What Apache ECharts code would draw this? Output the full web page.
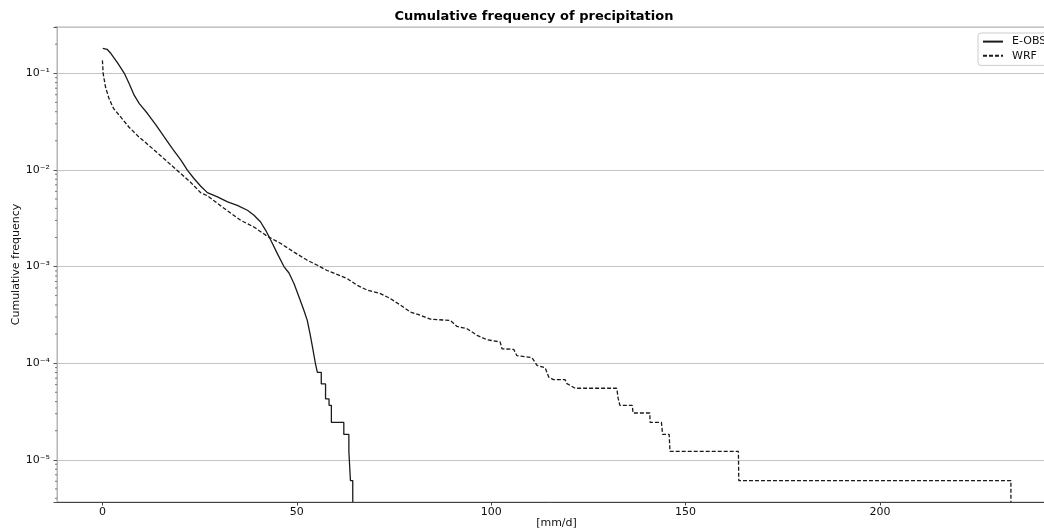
<!DOCTYPE html>
<html>
<head>
<meta charset="utf-8">
<title>Cumulative frequency of precipitation</title>
<script src="https://cdn.jsdelivr.net/npm/echarts@6/dist/echarts.min.js"></script>
<style>
  html, body { margin: 0; padding: 0; background: #fff; }
  #chart { width: 1044px; height: 531px; }
</style>
</head>
<body>
<div id="chart"></div>
<script>
// Exceedance frequency per daily precipitation amount [mm/d]
const eobsX = [0.1, 1.2, 2.2, 3.9, 5.6, 6.9, 8.2, 9.5, 11.6, 13.8, 15.9, 18.0, 20.2, 21.9, 23.6, 25.3, 27.0,
  29.6, 32.2, 34.7, 37.3, 39.0, 40.7, 42.0, 42.9, 43.7, 45.0, 46.7, 48.0, 49.3, 50.6, 51.8, 52.7, 53.4,
  54.0, 54.8, 55.3, 56.3, 56.3, 57.4, 57.4, 58.3, 58.3, 58.9, 58.9, 62.1, 62.1, 63.4, 63.4, 63.8, 63.8,
  64.4, 64.4];
const eobsY = [0.181, 0.177, 0.160, 0.128, 0.1005, 0.078, 0.059, 0.0485, 0.0383, 0.029, 0.0219, 0.0166,
  0.0126, 0.0099, 0.0081, 0.00677, 0.00582, 0.00525, 0.00466, 0.0043, 0.00382, 0.00339, 0.00289,
  0.00237, 0.00202, 0.00174, 0.00136, 0.00100, 0.000857, 0.000665, 0.00048, 0.000355, 0.000277,
  0.000202, 0.000150, 0.000099, 0.0000805, 0.0000805, 0.0000610, 0.0000610, 0.0000427, 0.0000427,
  0.0000366, 0.0000366, 0.0000244, 0.0000244, 0.0000183, 0.0000183, 0.0000122, 0.0000122, 0.0000061,
  0.0000061, 0];

const wrfX = [0.0, 0.2, 0.8, 1.7, 2.9, 4.7, 6.8, 9.4, 12.4, 15.8, 19.2, 22.6, 25.3, 27.0, 31.3, 35.6,
  39.0, 42.4, 45.9, 49.3, 52.7, 55.3, 57.8, 63.0, 65.5, 68.1, 71.5, 74.1, 76.7, 79.2, 81.8, 84.4, 89.5,
  91.2, 93.8, 96.4, 98.9, 102.3, 102.8, 105.8, 106.6, 110.5, 111.8, 113.9, 114.8, 116.0, 119.0, 119.5,
  121.6, 132.3, 132.7, 133.1, 136.3, 136.5, 140.8, 140.9, 143.8, 144.1, 145.8, 146.0, 163.6, 163.7,
  233.7, 233.7];
const wrfY = [0.136, 0.099, 0.072, 0.0547, 0.043, 0.0353, 0.0278, 0.0219, 0.0173, 0.0131, 0.0099, 0.0075,
  0.0058, 0.0054, 0.0040, 0.0030, 0.00256, 0.00206, 0.00173, 0.00141, 0.00116, 0.00103, 0.00091,
  0.00075, 0.00064, 0.00057, 0.000525, 0.000466, 0.000398, 0.000339, 0.000313, 0.000285, 0.000277,
  0.00024, 0.000227, 0.000194, 0.000175, 0.000166, 0.000141, 0.000139, 0.000120, 0.000114, 0.000095,
  0.0000897, 0.0000718, 0.0000676, 0.0000676, 0.0000614, 0.0000550, 0.0000550, 0.0000427, 0.0000366,
  0.0000366, 0.0000305, 0.0000305, 0.0000244, 0.0000244, 0.0000183, 0.0000183, 0.0000122, 0.0000122,
  0.0000061, 0.0000061, 0];

const xTicks = [0, 50, 100, 150, 200];
const X_MIN = -11.68, X_MAX = 245.3;
const Y_MIN = 3.66e-6, Y_MAX = 0.301;

// log-axis minor ticks: 2..9 x 10^n inside the visible range
const minorTicks = [];
for (let e = -6; e <= 0; e++) {
  for (let k = 2; k <= 9; k++) {
    const v = k * Math.pow(10, e);
    if (v >= Y_MIN && v <= Y_MAX) minorTicks.push(v);
  }
}

// a zero frequency has no place on a log axis: pin it to the axis floor
function toPairs(xs, ys) {
  return xs.map((x, i) => [x, ys[i] > 0 ? ys[i] : Y_MIN]);
}

const SUP = { '-': '\u207B', '0': '\u2070', '1': '\u00B9', '2': '\u00B2', '3': '\u00B3',
  '4': '\u2074', '5': '\u2075', '6': '\u2076', '7': '\u2077', '8': '\u2078', '9': '\u2079' };
function powLabel(v) {
  const l = Math.log10(v);
  const e = Math.round(l);
  if (Math.abs(l - e) > 1e-6) return '';
  return '10' + String(e).split('').map(c => SUP[c]).join('');
}

const FONT = 'DejaVu Sans';
const chart = echarts.init(document.getElementById('chart'), null, { renderer: 'canvas' });

chart.setOption({
  animation: false,
  backgroundColor: '#ffffff',
  textStyle: { fontFamily: FONT },
  title: {
    text: 'Cumulative frequency of precipitation',
    left: 529,
    textAlign: 'center',
    top: 5,
    textStyle: { fontFamily: FONT, fontSize: 13, fontWeight: 'bold', color: '#000' }
  },
  legend: {
    orient: 'vertical',
    left: 978,
    top: 33,
    data: ['E-OBS', 'WRF'],
    itemWidth: 20,
    itemHeight: 14,
    itemGap: 3,
    padding: [3, 8, 4, 4],
    backgroundColor: '#fff',
    borderColor: '#cccccc',
    borderWidth: 1,
    borderRadius: 3,
    itemStyle: { opacity: 0 },
    textStyle: { fontFamily: FONT, fontSize: 11, color: '#111', padding: [0, 0, 0, 4] }
  },
  grid: {
    left: 57,
    top: 27,
    width: 999,
    height: 475,
    outerBoundsMode: 'none',
    containLabel: false,
    show: true,
    borderColor: '#b5b5b5',
    borderWidth: 1,
    backgroundColor: 'transparent'
  },
  xAxis: {
    type: 'value',
    min: X_MIN,
    max: X_MAX,
    name: '[mm/d]',
    nameLocation: 'middle',
    nameGap: 16,
    nameMoveOverlap: false,
    nameTextStyle: { fontFamily: FONT, fontSize: 11, color: '#111' },
    axisLine: { show: true, onZero: false, lineStyle: { color: '#444', width: 1 } },
    axisTick: { show: true, length: 3.5, customValues: xTicks, lineStyle: { color: '#444' } },
    axisLabel: { customValues: xTicks, margin: 5, fontFamily: FONT, fontSize: 11, color: '#111' },
    splitLine: { show: false }
  },
  yAxis: {
    type: 'log',
    logBase: 10,
    min: Y_MIN,
    max: Y_MAX,
    name: 'Cumulative frequency',
    nameLocation: 'middle',
    nameGap: 35,
    nameMoveOverlap: false,
    nameRotate: 90,
    nameTextStyle: { fontFamily: FONT, fontSize: 11, color: '#111' },
    axisLine: { show: true, onZero: false, lineStyle: { color: '#b5b5b5', width: 1 } },
    axisTick: { show: true, length: 3.5, lineStyle: { color: '#555' } },
    axisLabel: { formatter: powLabel, margin: 7, fontFamily: FONT, fontSize: 11, color: '#111' },
    splitLine: { show: true, lineStyle: { color: '#c4c4c4', width: 1 } }
  },
  series: [
    {
      name: 'E-OBS',
      type: 'line',
      data: toPairs(eobsX, eobsY),
      symbol: 'none',
      smooth: false,
      lineStyle: { color: '#1a1a1a', width: 1.3, type: 'solid' },
      itemStyle: { color: '#1a1a1a' },
      z: 3
    },
    {
      name: 'WRF',
      type: 'line',
      data: toPairs(wrfX, wrfY),
      symbol: 'none',
      smooth: false,
      lineStyle: { color: '#1a1a1a', width: 1.3, type: [4, 2] },
      itemStyle: { color: '#1a1a1a' },
      z: 3
    },
    {
      name: 'minor ticks',
      type: 'custom',
      silent: true,
      clip: false,
      data: minorTicks.map(v => [X_MIN, v]),
      renderItem: (params, api) => {
        const p = api.coord([api.value(0), api.value(1)]);
        return {
          type: 'line',
          shape: { x1: p[0] - 2, y1: p[1], x2: p[0], y2: p[1] },
          style: { stroke: '#555', lineWidth: 0.8 }
        };
      }
    }
  ]
});
</script>
</body>
</html>
